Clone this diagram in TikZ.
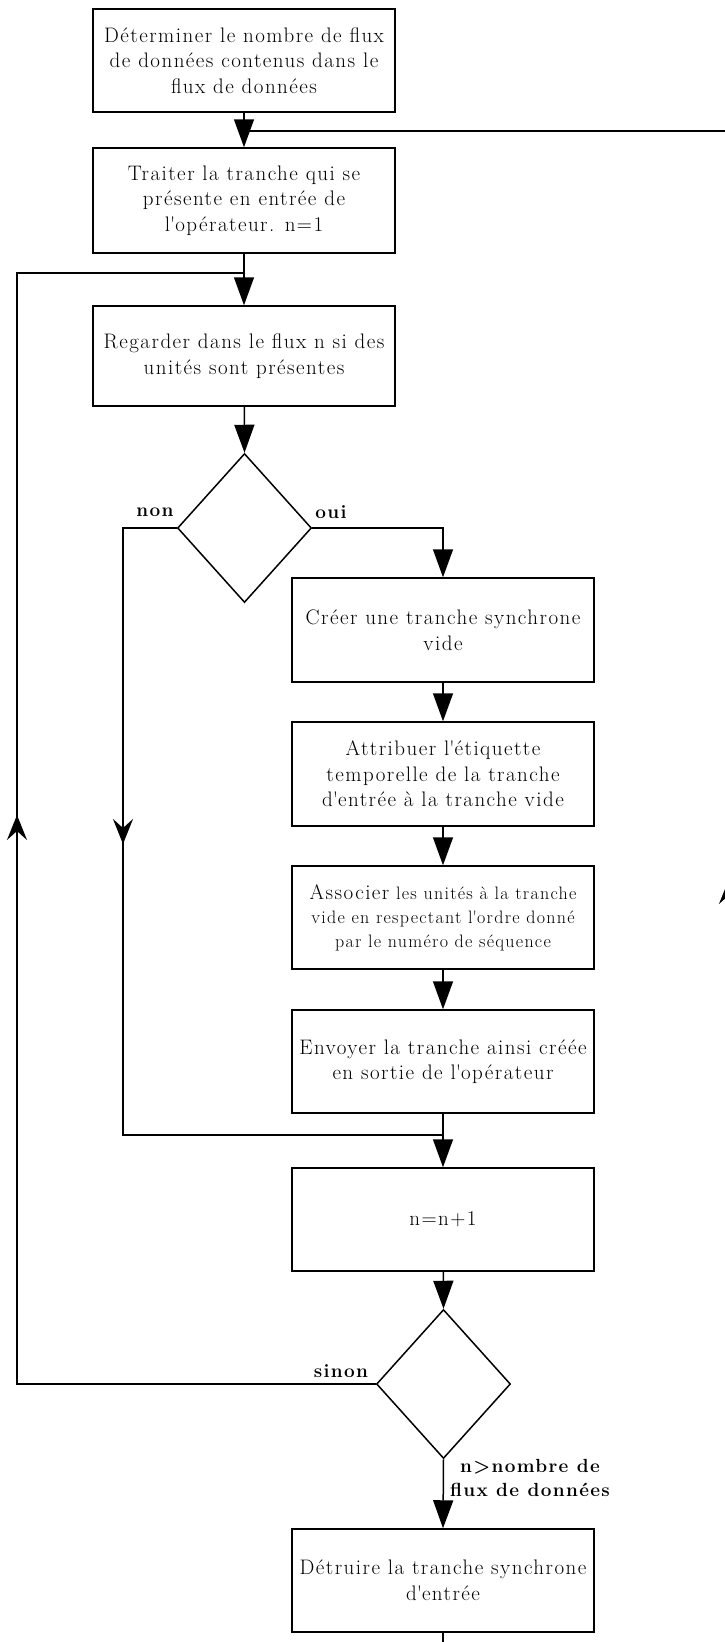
\documentclass[tikz,border=0pt]{standalone}
\usepackage{fontspec}
\setmainfont{Latin Modern Roman}[LetterSpace=7]
\usetikzlibrary{shapes.geometric,arrows.meta}
% straight apostrophe
\newcommand{\ap}{\textquotesingle}
\begin{document}
\begin{tikzpicture}[x=1pt,y=-1pt,
  stepbox/.style={draw, line width=1.5pt, minimum width=302pt, inner sep=3pt,
    align=center, font=\fontsize{21}{25.5}\selectfont},
  test/.style={draw, diamond, line width=1.5pt, minimum width=134pt,
    minimum height=149pt, inner sep=0pt},
  conn/.style={line width=1.5pt},
  flow/.style={conn, -{Triangle[length=28pt,width=20pt]}},
  back/.style={conn, -{Stealth[length=25pt,width=20pt,inset=9pt]}},
  lbl/.style={font=\fontsize{19}{23.5}\selectfont\bfseries, inner sep=0pt}
]
\useasboundingbox (0,0) rectangle (725,1642);
\clip (0,0) rectangle (725,1642);

% main column
\node[stepbox, minimum height=103pt] (b1) at (244,60.5)
  {Déterminer le nombre de flux\\de données contenus dans le\\flux de données};
\node[stepbox, minimum height=105pt] (b2) at (244,200.5)
  {Traiter la tranche qui se\\présente en entrée de\\l\ap opérateur. n=1};
\node[stepbox, minimum height=100pt] (b3) at (244,356)
  {Regarder dans le flux n si des\\unités sont présentes};
\node[test] (d1) at (244.5,528) {};

% branch "oui"
\node[stepbox, minimum height=104pt] (b4) at (443,630)
  {Créer une tranche synchrone\\vide};
\node[stepbox, minimum height=104pt] (b5) at (443,774)
  {Attribuer l\ap étiquette\\temporelle de la tranche\\d\ap entrée à la tranche vide};
\node[stepbox, minimum height=103pt, font=\fontsize{18}{24}\selectfont] (b6) at (443,917.5)
  {{\fontsize{21}{24}\selectfont Associer} les unités à la tranche\\vide en respectant l\ap ordre donné\\par le numéro de séquence};
\node[stepbox, minimum height=103pt] (b7) at (443,1061.5)
  {Envoyer la tranche ainsi créée\\en sortie de l\ap opérateur};
\node[stepbox, minimum height=103pt] (b8) at (443,1219.5) {n=n+1};
\node[test] (d2) at (443.5,1384) {};
\node[stepbox, minimum height=103pt] (b9) at (443,1580.5)
  {Détruire la tranche synchrone\\d\ap entrée};

% junction points
\coordinate (j1) at (244,131);
\coordinate (rt) at (729,131);
\coordinate (rb) at (729,1700);
\coordinate (ra1) at (729,905);
\coordinate (ra2) at (729,879);
\coordinate (j2) at (244,273);
\coordinate (lt) at (17,273);
\coordinate (la1) at (17,841);
\coordinate (la2) at (17,815);
\coordinate (nb) at (123,1135);
\coordinate (jm) at (443,1135);
\coordinate (na1) at (123,818);
\coordinate (na2) at (123,844);
\coordinate (out) at (443,1700);

% connectors
\draw[conn] (rb) -- (rt) -- (j1);
\draw[back] (ra1) -- (ra2);
\draw[flow] (b1) -- (b2);
\draw[conn] (d2.west) -| (lt) -- (j2);
\draw[back] (la1) -- (la2);
\draw[flow] (b2) -- (b3);
\draw[flow] (b3) -- (d1.north);
\draw[flow] (d1.east) -| (b4.north);
\draw[flow] (b4) -- (b5);
\draw[flow] (b5) -- (b6);
\draw[flow] (b6) -- (b7);
\draw[conn] (d1.west) -| (nb) -- (jm);
\draw[back] (na1) -- (na2);
\draw[flow] (b7) -- (b8);
\draw[flow] (b8) -- (d2.north);
\draw[flow] (d2.south) -- (b9.north);
\draw[conn] (b9) -- (out);

% branch labels
\node[lbl] (lnon) at (155,512) {non};
\node[lbl] (loui) at (331,512) {oui};
\node[lbl] (lsinon) at (341,1371) {sinon};
\node[lbl, align=center] (lfin) at (530,1478)
  {n>nombre de\\flux de données};
\end{tikzpicture}
\end{document}
